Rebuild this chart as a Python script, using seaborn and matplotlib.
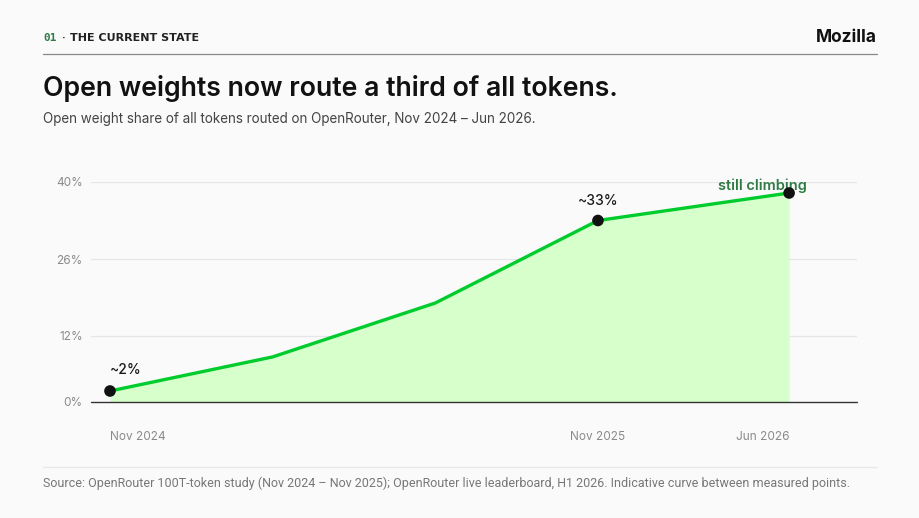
import pandas as pd
import matplotlib
matplotlib.use("Agg")
from matplotlib import pyplot as plt
import seaborn as sns

# data
periods = ["Nov 2024", "Mar 2025", "Jul 2025", "Nov 2025", "Jun 2026"]
x_pos = [0, 4, 8, 12, 16.7]          # axis position of each period (months-ish, last one compressed)
share = [2, 8.2, 18, 33, 38]          # open weight share, %
marked = [True, False, False, True, True]
point_labels = ["~2%", "", "", "~33%", "still climbing"]
tick_periods = ["Nov 2024", "Nov 2025", "Jun 2026"]
y_ticks = [0, 12, 26, 40]

df = pd.DataFrame({"period": periods, "x": x_pos, "share": share, "marked": marked,
                   "label": point_labels})

BG = "#fafafa"
LINE = "#00cc2e"
FILL = "#d6ffcc"
DARK_GREEN = "#2f7a45"

sns.set_theme(style="white")
plt.rcParams["font.family"] = ["Inter", "DejaVu Sans"]

fig = plt.figure(figsize=(9.2, 5.18), dpi=100, facecolor=BG)
ax = fig.add_axes([91 / 920, 1 - 402 / 518, (857 - 91) / 920, (402 - 182) / 518])
ax.set_facecolor(BG)

ax.fill_between(df["x"], 0, df["share"], color=FILL, lw=0, zorder=1)
sns.lineplot(data=df, x="x", y="share", color=LINE, lw=2.4, ax=ax, zorder=3)
sns.scatterplot(data=df[df["marked"]], x="x", y="share", color="#111111", s=70,
                edgecolor="none", ax=ax, zorder=4, clip_on=False)

ax.set_xlim(-0.467, 18.37)
ax.set_ylim(0, 40)
ax.set_yticks(y_ticks)
ax.set_yticklabels([f"{v}%" for v in y_ticks])
for v in y_ticks[1:]:
    ax.axhline(v, color="#e6e6e6", lw=0.9, zorder=0)
ax.axhline(0, color="#333333", lw=1.0, zorder=2, clip_on=False)

tick_x = [x for p, x in zip(periods, x_pos) if p in tick_periods]
ax.set_xticks(tick_x)
ax.set_xticklabels(tick_periods)
ax.tick_params(axis="both", length=0, labelsize=8.5, labelcolor="#8a8a8a")
ax.tick_params(axis="x", pad=21)
ax.tick_params(axis="y", pad=6)
for lab, ha in zip(ax.get_xticklabels(), ["left", "center", "right"]):
    lab.set_ha(ha)
ax.set_xlabel("")
ax.set_ylabel("")
for s in ax.spines.values():
    s.set_visible(False)

# point annotations
ax.annotate("~2%", (x_pos[0], share[0]), xytext=(11, 10), textcoords="offset points",
            ha="center", va="bottom", fontsize=10, color="#1a1a1a", fontweight="medium")
ax.annotate("~33%", (x_pos[3], share[3]), xytext=(0, 9), textcoords="offset points",
            ha="center", va="bottom", fontsize=10, color="#1a1a1a", fontweight="medium")
ax.annotate("still climbing", (x_pos[4], share[4]), xytext=(-19, 0), textcoords="offset points",
            ha="center", va="bottom", fontsize=10.5, color=DARK_GREEN, fontweight="semibold",
            annotation_clip=False)

# header
fig.text(43 / 920, 1 - 38 / 518, "01", color=DARK_GREEN, fontsize=8, fontweight="bold",
         family=["DejaVu Sans Mono"], va="center")
fig.text(61 / 920, 1 - 38 / 518, "·", color="#222222", fontsize=8,
         fontweight="bold", va="center")
fig.text(70 / 920, 1 - 38 / 518, "THE CURRENT STATE", color="#222222", fontsize=8,
         fontweight="bold", va="center", family=["DejaVu Sans"])
fig.text(877 / 920, 1 - 38 / 518, "Mozilla", color="#111111", fontsize=12.5,
         fontweight="bold", ha="right", va="center")
fig.add_artist(plt.Line2D([43 / 920, 877 / 920], [1 - 54 / 518] * 2, color="#888888", lw=0.9))

fig.text(43 / 920, 1 - 88 / 518, "Open weights now route a third of all tokens.",
         color="#111111", fontsize=19.2, fontweight="semibold", va="center")
fig.text(43 / 920, 1 - 119 / 518,
         "Open weight share of all tokens routed on OpenRouter, Nov 2024 \u2013 Jun 2026.",
         color="#444444", fontsize=9.7, va="center")

# footer
fig.add_artist(plt.Line2D([43 / 920, 877 / 920], [1 - 467 / 518] * 2, color="#e8e8e8", lw=0.9))
fig.text(43 / 920, 1 - 483 / 518,
         "Source: OpenRouter 100T-token study (Nov 2024 \u2013 Nov 2025); OpenRouter live leaderboard, "
         "H1 2026. Indicative curve between measured points.",
         color="#777777", fontsize=9, va="center", family=["Roboto", "DejaVu Sans"])

fig.savefig("out.png", dpi=100, facecolor=BG)
